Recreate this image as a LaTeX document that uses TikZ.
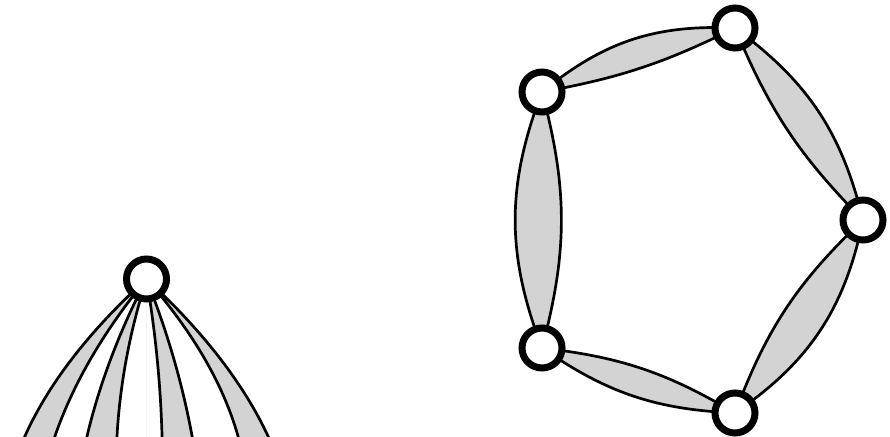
\documentclass[tikz,border=0pt]{standalone}
\usetikzlibrary{backgrounds}
\definecolor{lensgray}{RGB}{211,211,211}
\begin{document}
\begin{tikzpicture}[x=1pt,y=1pt,
  vtx/.style={circle, draw=black, fill=white, line width=7pt, minimum size=40pt, inner sep=0pt},
  lens/.style={fill=lensgray, draw=black, line width=2.7pt, line join=round}]
\useasboundingbox (0,0) rectangle (890,436);
\clip (0,0) rectangle (890,436);
% vertices
\node[vtx] (L) at (146.5,157) {};
\node[vtx] (A) at (735,408) {};
\node[vtx] (B) at (542,344) {};
\node[vtx] (C) at (863,216) {};
\node[vtx] (D) at (542,88) {};
\node[vtx] (E) at (735,23) {};
% off-picture ends of the left lenses
\coordinate (e1) at (15.7,-23);
\coordinate (e2) at (47.8,-23);
\coordinate (e3) at (82.0,-23);
\coordinate (e4) at (116.1,-23);
\coordinate (e5) at (162.4,-23);
\coordinate (e6) at (195.9,-23);
\coordinate (e7) at (243.5,-23);
\coordinate (e8) at (277.6,-23);
\coordinate (e0) at (146.8,-23);
\begin{scope}[on background layer]
\clip (0,0) rectangle (890,436);
% left fan of lenses
\draw[gray!12, line width=0.6pt] (L.center) -- (e0);
\path[lens] (L.center) .. controls (80.5,97) and (37.1,37) .. (e1) -- (e2)
   .. controls (64.5,37) and (97.3,97) .. (L.center) -- cycle;
\path[lens] (L.center) .. controls (115.3,97) and (94.0,37) .. (e3) -- (e4)
   .. controls (117.3,37) and (127.3,97) .. (L.center) -- cycle;
\path[lens] (L.center) .. controls (156.6,97) and (162.1,37) .. (e5) -- (e6)
   .. controls (186.8,37) and (170.2,97) .. (L.center) -- cycle;
\path[lens] (L.center) .. controls (199.3,97) and (231.7,37) .. (e7) -- (e8)
   .. controls (255.2,37) and (211.3,97) .. (L.center) -- cycle;
% cycle of lenses
\path[lens] (C.center) to[bend right=20] (A.center) to[bend right=11] (C.center) -- cycle;
\path[lens] (A.center) to[bend right=21] (B.center) to[bend right=8] (A.center) -- cycle;
\path[lens] (B.center) to[bend right=21] (D.center) to[bend right=15] (B.center) -- cycle;
\path[lens] (D.center) to[bend right=16] (E.center) to[bend right=12] (D.center) -- cycle;
\path[lens] (E.center) to[bend right=22] (C.center) to[bend right=13] (E.center) -- cycle;
\end{scope}
\end{tikzpicture}
\end{document}
